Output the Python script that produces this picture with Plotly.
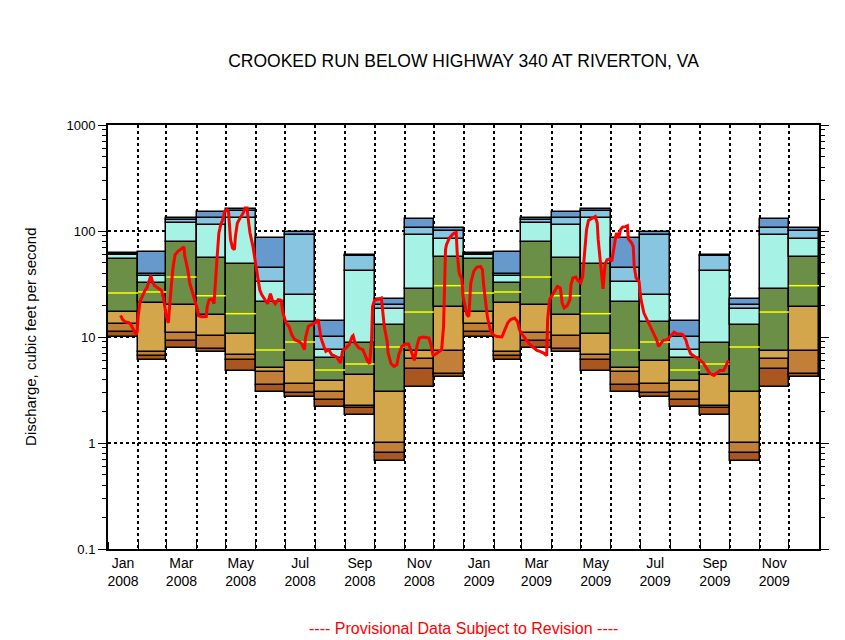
import pandas as pd
import plotly.graph_objects as go

# ---------------- data ----------------
# Monthly percentile statistics (same long-term stats for each calendar month), cfs
month_names = ["Jan", "Feb", "Mar", "Apr", "May", "Jun", "Jul", "Aug", "Sep", "Oct", "Nov", "Dec"]
p_min = [10.0, 6.07, 7.87, 7.2, 4.78, 3.03, 2.69, 2.19, 1.82, 0.68, 3.38, 4.2]
p05 = [11.1, 6.62, 9.17, 7.7, 6.07, 3.53, 2.96, 2.55, 2.14, 0.80, 4.99, 4.51]
p10 = [13.3, 7.22, 10.9, 10.2, 6.76, 4.68, 3.6, 3.03, 2.23, 1.0, 6.2, 7.43]
p25 = [17.2, 20.9, 20.0, 16.1, 10.7, 5.1, 5.94, 3.85, 4.38, 3.03, 7.43, 19.2]
p50 = [26.0, 26.6, 36.8, 24.5, 16.6, 7.54, 8.97, 4.88, 5.56, 8.05, 17.2, 30.5]
p75 = [54.4, 32.3, 78.7, 55.6, 48.8, 21.4, 13.9, 6.34, 8.78, 13.0, 28.4, 56.9]
p90 = [59.0, 37.3, 119, 114, 133, 33.0, 24.9, 7.54, 42.0, 18.4, 91.6, 84.0]
p95 = [60.5, 39.5, 127, 131.5, 155, 44.8, 91.7, 10.0, 57.6, 20.0, 107, 101]
p_max = [62.0, 63.4, 132.6, 152, 161, 85.9, 98.5, 14.2, 59.4, 22.8, 130, 107]

years = [2008, 2009]

# Daily discharge (provisional)
flow_dates = [
    "2008-01-14", "2008-01-16", "2008-01-19", "2008-01-22", "2008-01-24", "2008-01-26", "2008-01-28", "2008-01-30",
    "2008-01-31", "2008-02-01", "2008-02-03", "2008-02-06", "2008-02-08", "2008-02-10", "2008-02-12", "2008-02-14",
    "2008-02-16", "2008-02-18", "2008-02-22", "2008-02-25", "2008-02-27", "2008-02-29", "2008-03-01", "2008-03-03",
    "2008-03-04", "2008-03-06", "2008-03-08", "2008-03-10", "2008-03-13", "2008-03-17", "2008-03-19", "2008-03-20",
    "2008-03-23", "2008-03-25", "2008-03-28", "2008-03-31", "2008-04-02", "2008-04-03", "2008-04-06", "2008-04-11",
    "2008-04-12", "2008-04-14", "2008-04-17", "2008-04-19", "2008-04-20", "2008-04-22", "2008-04-24", "2008-04-26",
    "2008-04-28", "2008-04-30", "2008-05-02", "2008-05-04", "2008-05-05", "2008-05-06", "2008-05-08", "2008-05-10",
    "2008-05-11", "2008-05-13", "2008-05-16", "2008-05-19", "2008-05-21", "2008-05-23", "2008-05-24", "2008-05-26",
    "2008-05-29", "2008-05-31", "2008-06-03", "2008-06-05", "2008-06-07", "2008-06-11", "2008-06-13", "2008-06-16",
    "2008-06-18", "2008-06-21", "2008-06-24", "2008-06-27", "2008-06-29", "2008-07-02", "2008-07-05", "2008-07-08",
    "2008-07-11", "2008-07-15", "2008-07-18", "2008-07-21", "2008-07-22", "2008-07-25", "2008-07-29", "2008-08-01",
    "2008-08-04", "2008-08-05", "2008-08-07", "2008-08-10", "2008-08-12", "2008-08-15", "2008-08-18", "2008-08-23",
    "2008-08-27", "2008-08-29", "2008-09-02", "2008-09-05", "2008-09-08", "2008-09-09", "2008-09-11", "2008-09-15",
    "2008-09-19", "2008-09-21", "2008-09-24", "2008-09-26", "2008-09-28", "2008-09-29", "2008-10-01", "2008-10-06",
    "2008-10-08", "2008-10-09", "2008-10-11", "2008-10-14", "2008-10-15", "2008-10-18", "2008-10-21", "2008-10-24",
    "2008-10-26", "2008-10-29", "2008-11-02", "2008-11-05", "2008-11-07", "2008-11-10", "2008-11-11", "2008-11-14",
    "2008-11-16", "2008-11-20", "2008-11-26", "2008-11-28", "2008-11-30", "2008-12-02", "2008-12-06", "2008-12-09",
    "2008-12-11", "2008-12-12", "2008-12-13", "2008-12-14", "2008-12-17", "2008-12-20", "2008-12-22", "2008-12-24",
    "2008-12-25", "2008-12-27", "2008-12-30", "2008-12-31", "2009-01-02", "2009-01-04", "2009-01-06", "2009-01-07",
    "2009-01-08", "2009-01-11", "2009-01-14", "2009-01-18", "2009-01-20", "2009-01-21", "2009-01-23", "2009-01-25",
    "2009-01-28", "2009-01-31", "2009-02-04", "2009-02-09", "2009-02-12", "2009-02-15", "2009-02-18", "2009-02-22",
    "2009-02-25", "2009-02-27", "2009-03-02", "2009-03-06", "2009-03-10", "2009-03-14", "2009-03-17", "2009-03-20",
    "2009-03-24", "2009-03-27", "2009-03-28", "2009-03-30", "2009-04-02", "2009-04-05", "2009-04-07", "2009-04-10",
    "2009-04-12", "2009-04-14", "2009-04-17", "2009-04-20", "2009-04-21", "2009-04-23", "2009-04-26", "2009-04-28",
    "2009-05-01", "2009-05-03", "2009-05-05", "2009-05-07", "2009-05-09", "2009-05-13", "2009-05-16", "2009-05-18",
    "2009-05-19", "2009-05-21", "2009-05-23", "2009-05-24", "2009-05-25", "2009-05-26", "2009-05-28", "2009-05-31",
    "2009-06-02", "2009-06-04", "2009-06-06", "2009-06-07", "2009-06-09", "2009-06-11", "2009-06-13", "2009-06-16",
    "2009-06-18", "2009-06-19", "2009-06-22", "2009-06-24", "2009-06-25", "2009-06-27", "2009-06-30", "2009-07-01",
    "2009-07-02", "2009-07-05", "2009-07-08", "2009-07-11", "2009-07-14", "2009-07-18", "2009-07-20", "2009-07-23",
    "2009-07-25", "2009-07-29", "2009-08-01", "2009-08-05", "2009-08-08", "2009-08-12", "2009-08-14", "2009-08-17",
    "2009-08-19", "2009-08-22", "2009-08-25", "2009-08-29", "2009-09-01", "2009-09-04", "2009-09-06", "2009-09-09",
    "2009-09-11", "2009-09-15", "2009-09-18", "2009-09-21", "2009-09-25", "2009-09-28", "2009-09-30",
]
flow_values = [
    16.0, 14.6, 13.9, 13.7, 13.3, 12.2, 11.1, 10.5,
    11.3, 15.6, 21.7, 25.1, 27.5, 29.0, 32.7, 37.9,
    32.7, 30.5, 28.7, 27.5, 23.3, 18.1, 15.6, 13.6,
    19.4, 30.0, 46.3, 59.7, 64.2, 69.2, 70.7, 57.6,
    43.2, 32.3, 26.0, 21.7, 18.1, 15.9, 15.5, 15.6,
    19.4, 22.5, 22.8, 20.6, 30.0, 53.6, 95.7, 115,
    128, 153, 159, 150, 110, 82.8, 69.2, 66.6,
    88.9, 119, 133, 148, 165, 165, 133, 95.7,
    71.6, 55.6, 37.3, 27.9, 25.1, 22.2, 20.6, 25.6,
    22.2, 20.6, 22.5, 22.2, 16.8, 13.6, 12.6, 10.5,
    9.43, 9.09, 8.65, 7.59, 9.79, 12.6, 13.1, 13.6,
    14.6, 12.6, 9.79, 8.15, 7.31, 7.59, 6.81, 6.48,
    5.69, 7.31, 7.87, 8.46, 10.1, 10.3, 8.78, 7.87,
    7.59, 6.81, 5.89, 5.60, 9.43, 19.4, 22.2, 22.8,
    23.3, 19.4, 12.6, 9.09, 7.06, 5.60, 5.28, 5.48,
    6.81, 8.15, 8.59, 8.59, 7.59, 6.34, 6.02, 8.46,
    9.79, 10.0, 9.79, 8.46, 6.81, 6.81, 7.31, 7.59,
    12.6, 30.0, 66.6, 74.3, 85.9, 92.3, 95.7, 97.0,
    62.0, 40.2, 34.7, 24.2, 19.4, 16.2, 15.6, 22.5,
    32.3, 41.6, 45.4, 46.3, 43.2, 32.3, 20.9, 15.6,
    11.7, 10.5, 10.1, 10.0, 11.7, 13.6, 14.6, 15.1,
    14.0, 11.7, 10.5, 9.29, 8.46, 7.87, 7.48, 7.31,
    7.06, 6.66, 14.6, 22.5, 25.1, 27.9, 30.0, 29.0,
    20.9, 18.8, 19.7, 22.5, 31.1, 36.0, 36.8, 34.2,
    32.3, 37.3, 62.0, 103, 126, 133, 137, 119,
    82.8, 53.6, 32.3, 28.4, 37.3, 48.1, 53.6, 54.4,
    51.7, 71.6, 88.9, 95.7, 85.9, 103, 109, 110,
    112, 84.1, 78.0, 71.6, 46.3, 36.0, 33.5, 26.9,
    22.5, 16.8, 14.6, 12.6, 11.3, 9.43, 8.15, 8.78,
    9.29, 9.43, 10.1, 11.1, 10.7, 10.7, 10.5, 9.43,
    8.15, 6.96, 6.66, 6.34, 6.02, 5.69, 5.28, 4.84,
    4.51, 4.34, 4.57, 4.84, 4.84, 5.48, 6.02,
]

# ---------------- styling ----------------
band_colors = ["#A9561F", "#C27F38", "#D4A64B", "#6B8F46", "#A6F3E6", "#88C5E1", "#6699CC"]
FONT = "Liberation Sans, Arial, sans-serif"

# ---------------- geometry from the month calendar ----------------
starts = pd.date_range(f"{years[0]}-01-01", periods=12 * len(years), freq="MS")
ends = starts + pd.offsets.MonthBegin(1)
centers = starts + (ends - starts) / 2
widths_ms = [(e - s).total_seconds() * 1000 for s, e in zip(starts, ends)]

levels = [p_min, p05, p10, p25, p75, p90, p95, p_max]  # band edges (median drawn separately)
n_rep = len(years)

fig = go.Figure()
for k in range(len(levels) - 1):
    lo = levels[k] * n_rep
    hi = levels[k + 1] * n_rep
    fig.add_trace(go.Bar(
        x=centers, base=lo, y=[h - l for h, l in zip(hi, lo)], width=widths_ms,
        marker=dict(color=band_colors[k], line=dict(color="black", width=1.5)),
        hoverinfo="skip", showlegend=False,
    ))

# median lines
mx, my = [], []
for s, e, m in zip(starts, ends, p50 * n_rep):
    mx += [s, e, None]
    my += [m, m, None]
fig.add_trace(go.Scatter(x=mx, y=my, mode="lines", line=dict(color="#FFFF00", width=1.5),
                         hoverinfo="skip", showlegend=False))

# daily flow
fig.add_trace(go.Scatter(x=pd.to_datetime(flow_dates), y=flow_values, mode="lines",
                         line=dict(color="#FF0000", width=3), showlegend=False))

# x tick labels at month centres, every other month
lab_idx = list(range(0, 12 * n_rep, 2))
tickvals = [centers[i] for i in lab_idx]
ticktext = [f"{month_names[starts[i].month - 1]}<br>{starts[i].year}" for i in lab_idx]

# the page body adds an 8px offset; margins compensate so the plot sits where the reference has it
fig.update_layout(
    width=845, height=640,
    margin=dict(l=100, r=34, t=117, b=99),
    paper_bgcolor="white", plot_bgcolor="white",
    barmode="overlay", bargap=0,
    font=dict(family=FONT, size=13, color="black"),
    title=dict(text="CROOKED RUN BELOW HIGHWAY 340 AT RIVERTON, VA", x=0.5, xref="paper",
               y=1 - 53 / 640, yref="container", yanchor="middle", xanchor="center",
               font=dict(family=FONT, size=17.5, color="black")),
)

fig.update_xaxes(
    type="date", range=[starts[0], ends[-1]],
    tickmode="array", tickvals=tickvals, ticktext=ticktext, ticks="", showgrid=False,
    tickfont=dict(family=FONT, size=14),
    showline=True, linecolor="black", linewidth=2, mirror=True,
    minor=dict(tickmode="array", tickvals=list(starts) + [ends[-1]], ticks="inside", ticklen=7,
               tickcolor="black", tickwidth=1, showgrid=True, gridcolor="black",
               griddash="dot", gridwidth=1.5),
    zeroline=False,
)

minor_y = [m * 10 ** e for e in range(-1, 3) for m in range(2, 10)]
fig.update_yaxes(
    type="log", range=[-1, 3],
    tickmode="array", tickvals=[0.1, 1, 10, 100, 1000], ticktext=["0.1", "1", "10", "100", "1000"],
    ticks="outside", ticklen=8, tickwidth=1, tickcolor="black",
    tickfont=dict(family=FONT, size=13),
    showgrid=True, gridcolor="black", griddash="dot", gridwidth=1.5,
    showline=True, linecolor="black", linewidth=2, mirror="ticks",
    minor=dict(tickmode="array", tickvals=minor_y, ticks="outside", ticklen=4,
               tickcolor="black", tickwidth=1, showgrid=False),
    zeroline=False,
)

fig.add_annotation(text="Discharge, cubic feet per second", xref="paper", yref="paper",
                   x=(22 - 100) / 710.5, y=0.5, textangle=-90, showarrow=False,
                   xanchor="center", yanchor="middle", font=dict(family=FONT, size=15))
fig.add_annotation(text="---- Provisional Data Subject to Revision ----", xref="paper", yref="paper",
                   x=0.5, y=(549.3 - 629) / 424.3, showarrow=False, xanchor="center", yanchor="middle",
                   font=dict(family=FONT, size=16, color="#FF0000"))

fig.write_html("out.html")
